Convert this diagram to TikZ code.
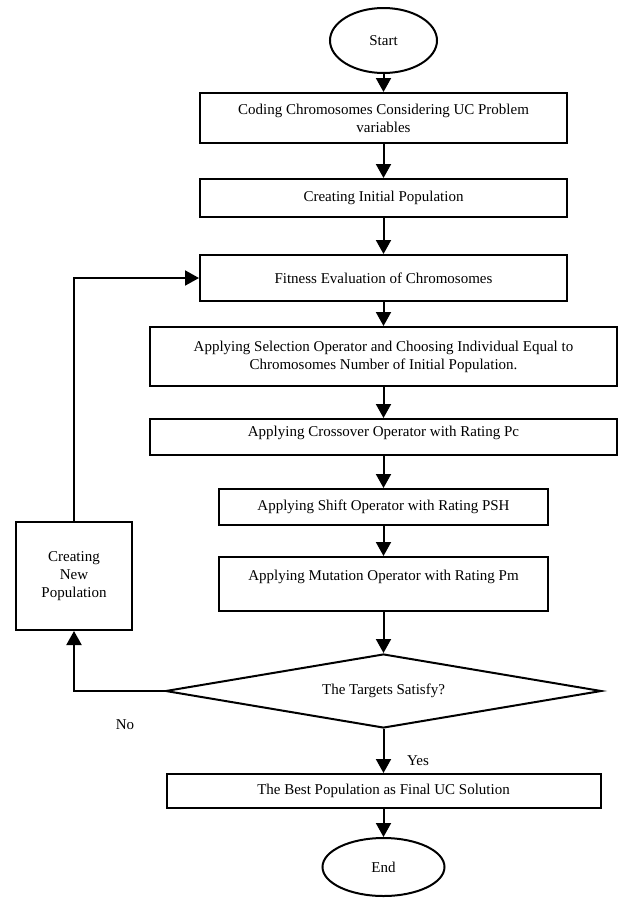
\documentclass[tikz,border=0pt]{standalone}
\usepackage{fontspec}
\setmainfont{Liberation Serif}
\usepackage{tikz}
\usetikzlibrary{shapes.geometric,arrows.meta,positioning,calc}

\begin{document}
\begin{tikzpicture}[
    node distance=32pt,
    txt/.style={font=\fontsize{15pt}{18pt}\selectfont},
    terminal/.style={ellipse, draw, line width=2pt, txt, inner sep=0pt},
    process/.style={rectangle, draw, line width=2pt, txt, align=center, text centered, inner sep=2pt},
    decision/.style={diamond, draw, line width=2pt, txt, aspect=5.76, inner sep=0pt, minimum width=436pt, minimum height=74pt},
    arrow/.style={-{Triangle[width=15pt,length=14pt]}, line width=2pt},
    answer/.style={txt, inner sep=0pt}
]
    \useasboundingbox (0,0) rectangle (619pt,-898pt);

    % Main chain
    \node[terminal, minimum width=107pt, minimum height=65pt] (start) at (383.5pt,-40.5pt) {Start};
    \node[process, below=18pt of start, minimum width=367pt, minimum height=50pt] (coding) {Coding Chromosomes Considering UC Problem\\variables};
    \node[process, below=34pt of coding, minimum width=367pt, minimum height=38pt] (initpop) {Creating Initial Population};
    \node[process, below=36pt of initpop, minimum width=367pt, minimum height=46pt] (fitness) {Fitness Evaluation of Chromosomes};
    \node[process, below=24pt of fitness, minimum width=467pt, minimum height=59pt] (selection) {Applying Selection Operator and Choosing Individual Equal to\\Chromosomes Number of Initial Population.};
    \node[process, below=31pt of selection, minimum width=467pt, minimum height=36pt] (crossover) {Applying Crossover Operator with Rating Pc\\[-6pt]\mbox{}};
    \node[process, below=of crossover, minimum width=329pt, minimum height=36pt] (shift) {Applying Shift Operator with Rating PSH};
    \node[process, below=30pt of shift, minimum width=329pt, minimum height=54pt] (mutation) {Applying Mutation Operator with Rating Pm\\\mbox{}};
    \node[decision, below=41pt of mutation] (targets) {The Targets Satisfy?};
    \node[process, below=44pt of targets, minimum width=434pt, minimum height=34pt] (best) {The Best Population as Final UC Solution};
    \node[terminal, below=28pt of best, minimum width=122pt, minimum height=58pt] (end) {End};

    % Loop back
    \node[process, minimum width=116pt, minimum height=108pt] (newpop) at (74pt,-576pt) {Creating\\New\\Population};

    % Answers
    \node[answer] (no) at (125pt,-725pt) {No};
    \node[answer] (yes) at (418pt,-761pt) {Yes};

    % Arrows
    \draw[arrow] (start) -- (coding);
    \draw[arrow] (coding) -- (initpop);
    \draw[arrow] (initpop) -- (fitness);
    \draw[arrow] (fitness) -- (selection);
    \draw[arrow] (selection) -- (crossover);
    \draw[arrow] (crossover) -- (shift);
    \draw[arrow] (shift) -- (mutation);
    \draw[arrow] (mutation) -- (targets);
    \draw[arrow] (targets) -- (best);
    \draw[arrow] (best) -- (end);
    \draw[arrow] (targets.west) -| (newpop.south);
    \draw[arrow] (newpop.north) |- (fitness.west);
\end{tikzpicture}
\end{document}
